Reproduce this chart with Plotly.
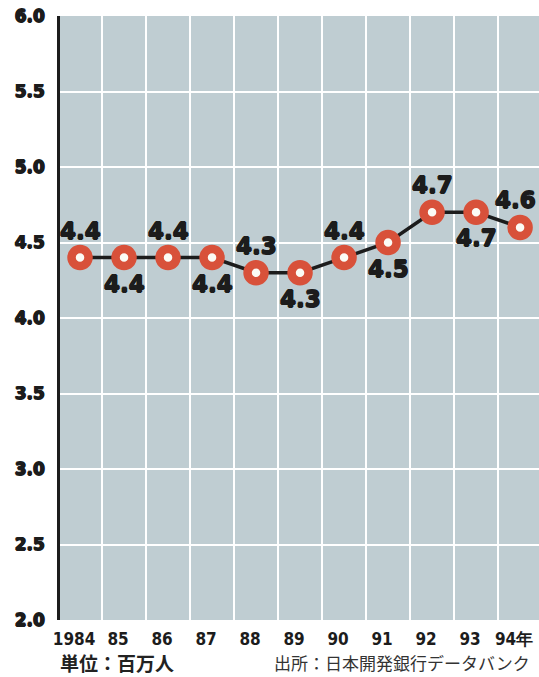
import plotly.graph_objects as go

# Yearly values (millions of people)
years = ["1984", "85", "86", "87", "88", "89", "90", "91", "92", "93", "94年"]
values = [4.4, 4.4, 4.4, 4.4, 4.3, 4.3, 4.4, 4.5, 4.7, 4.7, 4.6]
y_ticks = [2.0, 2.5, 3.0, 3.5, 4.0, 4.5, 5.0, 5.5, 6.0]
unit_note = "単位：百万人"
source_note = "出所：日本開発銀行データバンク"

xs = list(range(len(years)))

BG = "#bfcdd2"
RING = "#d8513a"
INK = "#1c1c1c"
HEAVY = "DejaVu Sans, Liberation Sans, sans-serif"
NARROW = "DejaVu Sans Condensed, Liberation Sans Narrow, Roboto, sans-serif"
JP = "Noto Sans CJK JP, sans-serif"
# thin outline in the text colour to give the heavy numerals extra weight
THICK = ", ".join(f"{dx}px {dy}px 0 {INK}" for dx, dy in
                  [(0.7, 0), (-0.7, 0), (0, 0.7), (0, -0.7)])

fig = go.Figure()

fig.add_trace(go.Scatter(
    x=xs, y=values,
    mode="lines+markers",
    line=dict(color=INK, width=3.5),
    marker=dict(size=17, color="#fbfbf5", line=dict(color=RING, width=8.5)),
    hoverinfo="skip",
    showlegend=False,
))

# value labels alternate above / below the points
for i, v in enumerate(values):
    above = (i % 2 == 0)
    fig.add_annotation(
        x=xs[i], y=v, text=f"<b>{v:.1f}</b>", showarrow=False,
        yshift=27 if above else -26,
        xshift=-5 if i == len(values) - 1 else 0,
        font=dict(family=HEAVY, size=23, color=INK, shadow=THICK),
    )

fig.add_annotation(
    xref="paper", yref="paper", x=-0.005, y=-0.07, xanchor="left", yanchor="middle",
    text="<b>" + unit_note + "</b>", showarrow=False,
    font=dict(family=JP, size=19, color="#222222"),
)
fig.add_annotation(
    xref="paper", yref="paper", x=0.985, y=-0.07, xanchor="right", yanchor="middle",
    text=source_note, showarrow=False,
    font=dict(family=JP, size=17, color="#333333"),
)

fig.update_layout(
    width=539, height=677,
    margin=dict(l=60, r=0, t=16, b=57),
    paper_bgcolor="white",
    plot_bgcolor=BG,
    xaxis=dict(
        range=[-0.455, 10.43],
        tickmode="array", tickvals=xs, ticktext=["<b>" + y + "</b>" for y in years],
        showgrid=False, zeroline=False,
        showline=False, ticks="",
        ticklabelshift=-6, ticklabelstandoff=7,
        tickfont=dict(family=NARROW, size=17, color=INK),
        minor=dict(tick0=0.5, dtick=1, showgrid=True, gridcolor="white", gridwidth=2, ticks=""),
        fixedrange=True,
    ),
    yaxis=dict(
        range=[2.0, 6.0],
        tickmode="array", tickvals=y_ticks, ticktext=[f"<b>{t:.1f}</b>" for t in y_ticks],
        showgrid=True, gridcolor="white", gridwidth=2,
        zeroline=False,
        showline=True, linecolor=INK, linewidth=2.5,
        ticks="", ticklabelstandoff=9,
        tickfont=dict(family=HEAVY, size=17, color=INK, shadow=THICK),
        fixedrange=True,
    ),
)

fig.write_html("out.html")
